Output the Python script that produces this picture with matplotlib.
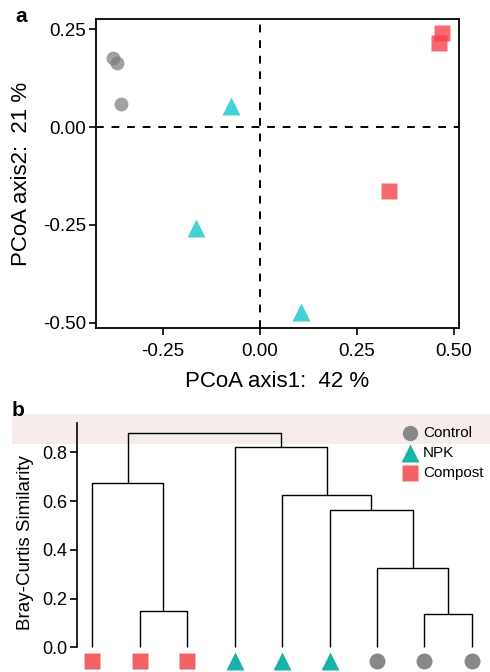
import matplotlib
matplotlib.use("Agg")
import matplotlib.pyplot as plt
from matplotlib.patches import Rectangle
import matplotlib.transforms as mtransforms

plt.rcParams['font.family'] = ['Liberation Sans', 'DejaVu Sans']

# PCoA coordinates
control_x = [-0.378, -0.368, -0.358]
control_y = [0.176, 0.164, 0.058]
npk_x = [-0.075, -0.165, 0.105]
npk_y = [0.055, -0.258, -0.473]
compost_x = [0.469, 0.461, 0.332]
compost_y = [0.241, 0.215, -0.162]

pcoa_xticks = [-0.25, 0.00, 0.25, 0.50]
pcoa_yticks = [-0.50, -0.25, 0.00, 0.25]

# dendrogram: leaf groups in plotting order, merges as (left, right, height)
leaf_groups = ['Compost', 'Compost', 'Compost', 'NPK', 'NPK', 'NPK',
               'Control', 'Control', 'Control']
merges = [
    (1, 2, 0.149),   # 9
    (7, 8, 0.137),   # 10
    (6, 10, 0.325),  # 11
    (5, 11, 0.563),  # 12
    (4, 12, 0.625),  # 13
    (0, 9, 0.674),   # 14
    (3, 13, 0.822),  # 15
    (14, 15, 0.880), # 16
]
sim_ticks = [0.0, 0.2, 0.4, 0.6, 0.8]

styles = {
    'Control': dict(marker='o', color='#888888', ms=11.5),
    'NPK': dict(marker='^', color='#18B3AB', ms=13),
    'Compost': dict(marker='s', color='#F26262', ms=11.5),
}

fig = plt.figure(figsize=(4.9, 6.72), dpi=100)

# ---- panel a: PCoA
ax = fig.add_axes([96 / 490, 1 - 328 / 672, 363 / 490, 309 / 672])
ax.axhline(0, color='black', ls=(0, (4, 4)), lw=1.4, zorder=1)
ax.axvline(0, color='black', ls=(0, (4, 4)), lw=1.4, zorder=1)
ax.plot(control_x, control_y, 'o', color='#7a7a7a', alpha=0.7, ms=10, mec='none')
ax.plot(npk_x, npk_y, '^', color='#00BFC4', alpha=0.72, ms=12.5, mec='none')
ax.plot(compost_x, compost_y, 's', color='#F4434A', alpha=0.8, ms=11, mec='none')
ax.set_xlim(-0.423, 0.513)
ax.set_ylim(-0.513, 0.276)
ax.set_xticks(pcoa_xticks)
ax.set_xticklabels([f'{t:.2f}' for t in pcoa_xticks])
ax.set_yticks(pcoa_yticks)
ax.set_yticklabels([f'{t:.2f}' for t in pcoa_yticks])
ax.tick_params(direction='out', length=5, width=1.2, labelsize=13.5, pad=2)
ax.tick_params(axis='x', pad=6)
for s in ax.spines.values():
    s.set_linewidth(1.3)
ax.set_xlabel('PCoA axis1:  42 %', fontsize=16, labelpad=8)
ax.set_ylabel('PCoA axis2:  21 %', fontsize=16, labelpad=8)
fig.text(15 / 490, 1 - 17 / 672, 'a', fontsize=15, fontweight='bold',
         ha='left', va='center')

# ---- panel b: dendrogram
bx = fig.add_axes([77 / 490, 0.0, 413 / 490, 258.7 / 672])
n = len(leaf_groups)
xs = {i: i + 1 for i in range(n)}
hs = {i: 0.0 for i in range(n)}
for k, (l, r, h) in enumerate(merges):
    node = n + k
    bx.plot([xs[l], xs[l], xs[r], xs[r]], [hs[l], h, h, hs[r]],
            color='black', lw=1.0, solid_capstyle='butt')
    xs[node] = (xs[l] + xs[r]) / 2
    hs[node] = h

for i, g in enumerate(leaf_groups):
    st = styles[g]
    bx.plot(i + 1, -0.057, st['marker'], color=st['color'], ms=st['ms'],
            mec='none', clip_on=False)

band = mtransforms.blended_transform_factory(fig.transFigure, bx.transData)
bx.add_patch(Rectangle((12 / 490, 0.833), 1 - 12 / 490, 0.126, transform=band,
                       color='#f6ecec', clip_on=False, zorder=0, lw=0))

bx.set_xlim(0.684, 9.379)
bx.set_ylim(-0.101, 0.96)
bx.set_yticks(sim_ticks)
bx.set_yticklabels([f'{t:.1f}' for t in sim_ticks])
bx.set_xticks([])
for side in ['top', 'right', 'bottom']:
    bx.spines[side].set_visible(False)
bx.spines['left'].set_bounds(0, 0.92)
bx.spines['left'].set_linewidth(1.2)
bx.patch.set_alpha(0)
bx.tick_params(direction='out', length=5, width=1.2, labelsize=13, pad=2)
bx.set_ylabel('Bray-Curtis Similarity', fontsize=13.5, labelpad=6)
fig.text(12 / 490, 1 - 410 / 672, 'b', fontsize=15, fontweight='bold',
         ha='left', va='center')

for k, g in enumerate(['Control', 'NPK', 'Compost']):
    st = styles[g]
    y = 1 - (433 + 20 * k) / 672
    fig.lines.append(plt.Line2D([410 / 490], [y], marker=st['marker'],
                                color=st['color'], ms=11 if g != 'NPK' else 12.5,
                                mec='none', transform=fig.transFigure))
    fig.text(423 / 490, y, g, fontsize=11, ha='left', va='center')

fig.savefig('out.png', dpi=100)
